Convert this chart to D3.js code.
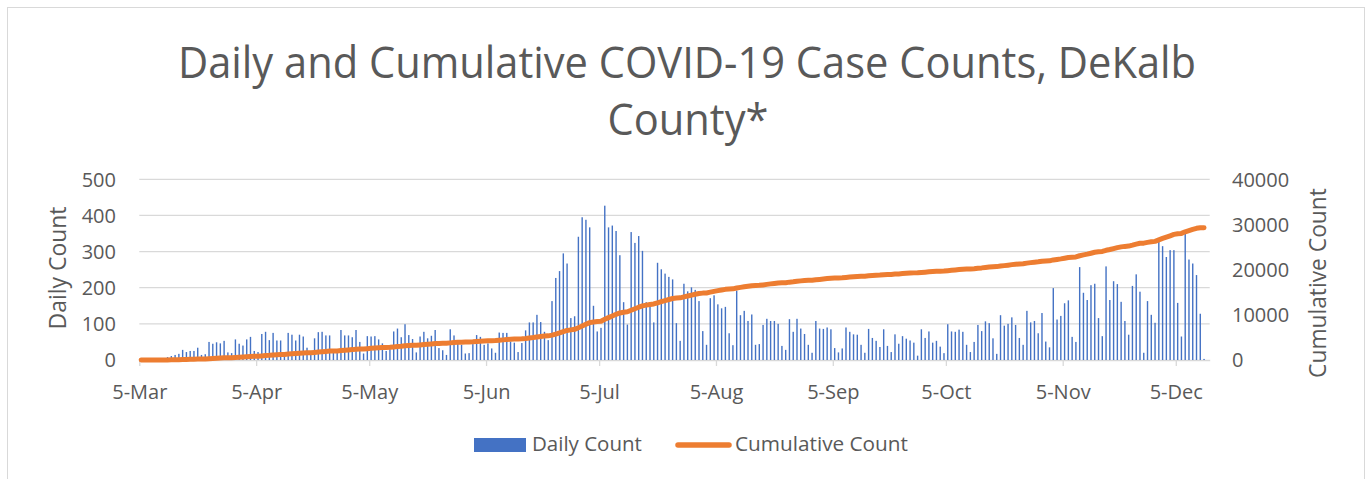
<!DOCTYPE html>
<html><head><meta charset="utf-8">
<script src="https://cdn.jsdelivr.net/npm/d3@7"></script>
<style>
body{margin:0;background:#fff}
text{font-family:"Open Sans",sans-serif;fill:#595959}
</style>
</head><body>
<svg id="c" width="1372" height="479"></svg>
<script>
const startDate = "2020-03-05";
const dailyCount = [
  1,1,2,2,3,4,5,8,
  11,14,17,28,22,25,25,34,14,16,50,45,49,46,53,21,19,57,45,40,57,64,25,22,72,78,
  55,75,54,54,20,75,70,54,70,65,34,20,60,77,78,68,68,20,25,83,68,68,63,83,50,18,66,65,66,57,46,25,30,79,87,
  63,99,69,58,21,65,78,60,67,83,33,27,14,85,68,46,42,18,19,44,69,64,42,46,32,20,76,75,75,51,48,22,47,82,104,104,
  125,105,78,55,163,227,246,295,267,116,121,341,395,388,367,150,79,89,427,367,372,357,290,160,98,354,324,343,302,160,147,104,269,251,239,230,223,
  102,53,211,190,201,194,163,80,42,171,179,154,143,147,74,41,192,124,136,108,126,42,44,97,114,108,108,100,39,28,113,78,114,87,
  72,42,20,108,87,86,90,85,33,21,32,90,78,71,70,42,20,86,61,53,36,85,39,22,71,45,66,59,54,48,12,85,61,79,48,53,
  37,19,99,79,78,84,78,42,22,50,97,80,107,102,60,17,124,95,100,118,97,61,42,136,104,108,74,130,51,35,199,112,122,157,165,64,50,
  257,186,166,207,211,116,66,259,166,218,210,161,108,70,205,237,189,20,163,125,103,330,315,285,304,304,158,65,353,278,267,235,128,3
];
const monthTicks = ["2020-03-05","2020-04-05","2020-05-05","2020-06-05","2020-07-05","2020-08-05","2020-09-05","2020-10-05","2020-11-05","2020-12-05"];
const leftTicks = [0,100,200,300,400,500];
const rightTicks = [0,10000,20000,30000,40000];
const titleLines = ["Daily and Cumulative COVID-19 Case Counts, DeKalb","County*"];
const seriesNames = ["Daily Count","Cumulative Count"];
const axisTitles = ["Daily Count","Cumulative Count"];

const parse = d3.utcParse("%Y-%m-%d");
const t0 = parse(startDate);
const dates = dailyCount.map((_, i) => d3.utcDay.offset(t0, i));
const cumulativeCount = Array.from(d3.cumsum(dailyCount));

const svg = d3.select("#c");
const grid = "#d9d9d9", blue = "#4472C4", orange = "#ED7D31", txt = "#595959";

svg.append("rect").attr("x",7.5).attr("y",7.5).attr("width",1357).attr("height",480)
  .attr("fill","#fff").attr("stroke",grid).attr("stroke-width",1);

const x = d3.scaleUtc().domain([t0, d3.utcDay.offset(t0, dailyCount.length + 1)]).range([139.3, 1209.7]);
const dayW = x(d3.utcDay.offset(t0,1)) - x(t0);
const mid = d => x(d) + dayW/2;
const yL = d3.scaleLinear().domain([0,500]).range([360,179.3]);
const yR = d3.scaleLinear().domain([0,40000]).range([360,179.3]);

function fit(sel, target){
  const w = sel.node().getComputedTextLength();
  const fs = parseFloat(sel.attr("font-size"));
  sel.attr("font-size", fs*target/w);
}

// title: tall, narrow letters like the original
const tfs = 44;
const t1 = svg.append("text").attr("x",687).attr("y",78).attr("text-anchor","middle").attr("font-size",tfs).text(titleLines[0]);
const w1 = t1.node().getComputedTextLength();
const ratio = 1018 / w1;
t1.attr("textLength",1018).attr("lengthAdjust","spacingAndGlyphs");
const t2 = svg.append("text").attr("x",688).attr("y",135).attr("text-anchor","middle").attr("font-size",tfs).text(titleLines[1]);
const w2 = t2.node().getComputedTextLength();
t2.attr("textLength",w2*ratio).attr("lengthAdjust","spacingAndGlyphs");

// gridlines
svg.append("g").selectAll("line").data(leftTicks.filter(v=>v>0)).join("line")
  .attr("x1",139.3).attr("x2",1209.7).attr("y1",d=>yL(d)).attr("y2",d=>yL(d))
  .attr("stroke",grid).attr("stroke-width",1.3);

// x axis
const xAxis = d3.axisBottom(x).tickValues(monthTicks.map(parse))
  .tickFormat(d3.utcFormat("%-d-%b")).tickSize(6).tickSizeOuter(0).tickPadding(19);
const gx = svg.append("g").attr("transform","translate(0,360)").call(xAxis);
gx.select(".domain").attr("stroke",grid).attr("stroke-width",1.3);
gx.selectAll(".tick line").attr("stroke",grid).attr("stroke-width",1.3);
gx.selectAll(".tick text").attr("font-size",20).attr("font-family","Open Sans").attr("fill",txt);

// left axis labels
svg.append("g").selectAll("text").data(leftTicks).join("text")
  .attr("x",116).attr("y",d=>yL(d)).attr("dy","0.36em").attr("text-anchor","end")
  .attr("font-size",20).text(d=>d);
// right axis labels
svg.append("g").selectAll("text").data(rightTicks).join("text")
  .attr("x",1232).attr("y",d=>yR(d)).attr("dy","0.36em").attr("text-anchor","start")
  .attr("font-size",20).text(d=>d);

// axis titles
const at1 = svg.append("text").attr("transform","translate(58,268) rotate(-90)").attr("dy","0.36em")
  .attr("text-anchor","middle").attr("font-size",22).text(axisTitles[0]);
fit(at1,123);
const at2 = svg.append("text").attr("transform","translate(1318,283) rotate(-90)").attr("dy","0.36em")
  .attr("text-anchor","middle").attr("font-size",22).text(axisTitles[1]);
fit(at2,190);

// bars
const bw = 1.4;
svg.append("g").selectAll("rect").data(dailyCount).join("rect")
  .attr("x",(d,i)=>mid(dates[i]) - bw/2).attr("width",bw)
  .attr("y",d=>yL(d)).attr("height",d=>yL(0)-yL(d)).attr("fill",blue);

// line
const line = d3.line().x((d,i)=>mid(dates[i])).y(d=>yR(d));
svg.append("path").datum(cumulativeCount).attr("d",line).attr("fill","none")
  .attr("stroke",orange).attr("stroke-width",5).attr("stroke-linejoin","round").attr("stroke-linecap","round");

// legend
svg.append("rect").attr("x",474).attr("y",438).attr("width",52).attr("height",14).attr("fill",blue);
const l1 = svg.append("text").attr("x",532).attr("y",451).attr("font-size",20).text(seriesNames[0]);
fit(l1,110);
svg.append("line").attr("x1",678).attr("x2",729).attr("y1",445).attr("y2",445)
  .attr("stroke",orange).attr("stroke-width",5.5).attr("stroke-linecap","round");
const l2 = svg.append("text").attr("x",735).attr("y",451).attr("font-size",20).text(seriesNames[1]);
fit(l2,173);
</script>
</body></html>
